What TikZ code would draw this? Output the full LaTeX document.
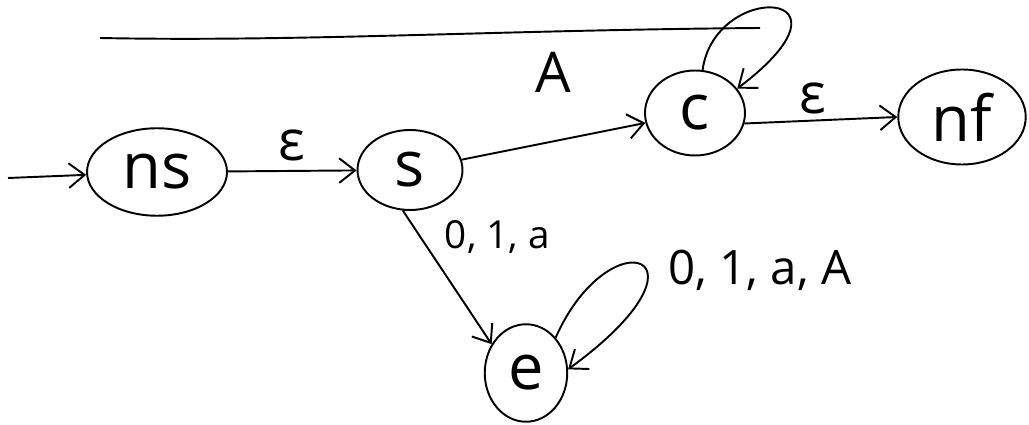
\documentclass[tikz,border=0pt]{standalone}
\usepackage{fontspec}
\setmainfont{Open Sans}
\usetikzlibrary{arrows.meta, shapes.geometric}

\begin{document}
\begin{tikzpicture}[x=0.02cm, y=-0.02cm, line width=1.1pt, >={Straight Barb[length=9pt, width=14pt]},
  state/.style={draw, ellipse, inner sep=0pt, font=\fontsize{36}{40}\selectfont},
  lbl/.style={font=\fontsize{32}{36}\selectfont}]
  \useasboundingbox (0,0) rectangle (1029,425);
  \node[state, minimum width=2.8cm, minimum height=1.75cm] (ns) at (157,172) {ns};
  \node[state, minimum width=2.1cm, minimum height=1.6cm] (s) at (410,170) {s};
  \node[state, minimum width=2.0cm, minimum height=1.7cm] (c) at (695,113) {c};
  \node[state, minimum width=2.55cm, minimum height=1.9cm] (nf) at (962,117) {nf};
  \node[state, minimum width=1.65cm, minimum height=1.95cm] (e) at (526,373) {e};
  \coordinate (start) at (8,178);
  \draw[->] (start) -- (ns);
  \draw[->] (ns) -- node[lbl, above=2pt] {ε} (s);
  \draw[->] (s) -- node[lbl, above=24pt, pos=0.5] {A} (c);
  \draw[->] (c.-12) -- node[lbl, above=0pt, pos=0.45] {ε} (nf.west);
  \draw[->] (s.-100) -- node[right=10pt, pos=0.2, font=\fontsize{22}{26}\selectfont] {0, 1, a} (e.140);
  \draw[->] (c.80) .. controls (715,-20) and (870,-12) .. (c.30);
  \draw[->] (e.50) .. controls (610,215) and (725,255) .. (e.5);
  \node[font=\fontsize{27}{30}\selectfont] (eloop) at (760,270) {0, 1, a, A};
  \draw (100,38) .. controls (300,42) and (500,30) .. (760,28);
\end{tikzpicture}
\end{document}
